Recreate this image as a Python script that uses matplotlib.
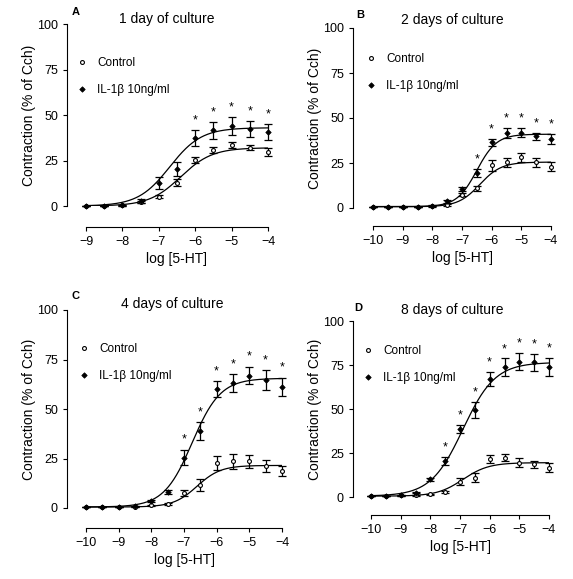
import matplotlib
matplotlib.use("Agg")
import matplotlib.pyplot as plt
import numpy as np

plt.rcParams['font.family'] = ['Liberation Sans', 'DejaVu Sans']

W, H = 573, 579

# dosis (log [5-HT])
x_a = [-9, -8.5, -8, -7.5, -7, -6.5, -6, -5.5, -5, -4.5, -4]
x_bcd = [-10, -9.5, -9, -8.5, -8, -7.5, -7, -6.5, -6, -5.5, -5, -4.5, -4]

# Panel A - 1 dia
ctrl_a = [0, 0, 0.5, 2, 5, 12.8, 25.3, 30.8, 33.6, 32, 29.6]
ctrl_a_err = [0, 0, 0.3, 0.5, 0.8, 2, 1.5, 1.5, 1.5, 1.5, 2]
il_a = [0, 0, 0.5, 2.7, 12.8, 20.4, 37.2, 41.5, 44, 42.2, 40.5]
il_a_err = [0, 0, 0.3, 1, 3.3, 4, 4.5, 4.5, 5, 4.5, 4.5]
sig_a = [-6, -5.5, -5, -4.5, -4]

# Panel B - 2 dias
ctrl_b = [0.5, 0.5, 0.5, 0.7, 1, 1.5, 7.4, 11, 23.7, 25.5, 28.3, 25.5, 23]
ctrl_b_err = [0, 0, 0, 0, 0.3, 0.5, 1, 1.5, 3, 2.5, 2.5, 2.5, 2.5]
il_b = [0.5, 0.5, 0.5, 0.7, 1.2, 3.7, 10.7, 19.4, 36.5, 41.7, 41.7, 39.8, 38.3]
il_b_err = [0, 0, 0, 0, 0.3, 0.7, 1, 2, 2, 3, 2.5, 2, 3]
sig_b = [-6.5, -6, -5.5, -5, -4.5, -4]

# Panel C - 4 dias
ctrl_c = [0.5, 0.5, 0.5, 0.7, 1.3, 2.2, 7.6, 11.8, 22.7, 23.5, 23.5, 21, 18.8]
ctrl_c_err = [0, 0, 0, 0, 0.3, 0.5, 1.5, 3, 3.5, 4, 3.5, 3, 2.5]
il_c = [0.5, 0.5, 0.5, 0.8, 3.7, 8, 25.5, 38.7, 60, 63, 66.9, 64.7, 61.3]
il_c_err = [0, 0, 0, 0, 0.5, 1, 4, 4.5, 4, 4.5, 4.5, 5, 4.5]
sig_c = [-7, -6.5, -6, -5.5, -5, -4.5, -4]

# Panel D - 8 dias
ctrl_d = [0.5, 0.5, 1, 1, 1.5, 3, 8.7, 11, 21.6, 22.3, 19.5, 18.6, 16.7]
ctrl_d_err = [0, 0, 0.3, 0.3, 0.4, 0.5, 2, 2.5, 2, 2, 2.5, 2, 2.5]
il_d = [0.5, 0.5, 1, 2.5, 10, 20.5, 38.6, 49.4, 66.9, 73.7, 76.9, 76.5, 73.9]
il_d_err = [0, 0, 0.3, 0.5, 1, 2.5, 2.5, 4.5, 4, 5, 5, 5, 5]
sig_d = [-7.5, -7, -6.5, -6, -5.5, -5, -4.5, -4]

# parametros del ajuste sigmoide (bottom, top, logEC50, hill)
fit_ctrl = {"A": (0, 32, -6.4, 1.0), "B": (0.7, 25.5, -6.4, 1.2),
            "C": (0.5, 21.5, -6.6, 1.2), "D": (0.5, 19.5, -6.9, 1.0)}
fit_il = {"A": (0, 43, -6.7, 1.0), "B": (0.8, 41, -6.5, 1.3),
          "C": (0.5, 65.5, -6.75, 1.0), "D": (0.5, 76.5, -6.9, 0.8)}

titulos = {"A": "1 day of culture", "B": "2 days of culture",
           "C": "4 days of culture", "D": "8 days of culture"}

# cajas de ejes en pixeles (x0, y0, x1, y1) y desplazamiento de los ejes
cajas = {"A": (86, 24, 268, 206, 19, 21), "B": (373, 28, 551, 208, 20, 18),
         "C": (86, 310, 282, 508, 19, 20), "D": (371, 321, 549, 497, 18, 18)}
titulo_pos = {"A": (167, 19), "B": (452, 20), "C": (172, 304), "D": (452, 310)}
letra_pos = {"A": (76, 12), "B": (360, 15), "C": (75, 296), "D": (358, 308)}
leyenda_pos = {"A": (76, 57), "B": (365, 53), "C": (78, 343), "D": (362, 345)}


def sigmoide(x, p):
    b, t, ec, h = p
    return b + (t - b) / (1 + 10 ** ((ec - x) * h))


def dibujar_panel(fig, clave, x, ctrl, ctrl_err, il, il_err, sig):
    x0, y0, x1, y1, off_l, off_b = cajas[clave]
    ax = fig.add_axes([x0 / W, 1 - y1 / H, (x1 - x0) / W, (y1 - y0) / H])
    xs = np.linspace(x[0], x[-1], 300)
    ax.plot(xs, sigmoide(xs, fit_ctrl[clave]), color="black", lw=0.9)
    ax.plot(xs, sigmoide(xs, fit_il[clave]), color="black", lw=0.9)
    ax.errorbar(x, ctrl, yerr=ctrl_err, fmt="none", ecolor="black",
                elinewidth=0.9, capsize=3, capthick=0.9, clip_on=False)
    ax.errorbar(x, il, yerr=il_err, fmt="none", ecolor="black",
                elinewidth=0.9, capsize=3, capthick=0.9, clip_on=False)
    h1, = ax.plot(x, ctrl, "o", ms=2.8, mfc="white", mec="black", mew=0.8,
                  ls="none", label="Control", clip_on=False, zorder=4)
    h2, = ax.plot(x, il, "D", ms=2.8, mfc="black", mec="black", mew=0.5,
                  ls="none", label="IL-1\u03b2 10ng/ml", clip_on=False, zorder=4)
    # asteriscos de significancia
    for xi in sig:
        i = x.index(xi)
        ax.text(xi, il[i] + il_err[i] + 2, "*", ha="center", va="bottom", fontsize=9)

    ax.set_xlim(x[0], x[-1])
    ax.set_ylim(0, 100)
    ax.set_xticks(range(int(x[0]), -3))
    ax.set_yticks([0, 25, 50, 75, 100])
    for s in ["top", "right"]:
        ax.spines[s].set_visible(False)
    ax.spines["left"].set_position(("outward", off_l * 0.72))
    ax.spines["bottom"].set_position(("outward", off_b * 0.72))
    ax.tick_params(direction="out", length=3, width=0.8, labelsize=9)
    ax.set_xlabel("log [5-HT]", fontsize=10, labelpad=3)
    ax.set_ylabel("Contraction (% of Cch)", fontsize=10, labelpad=1)
    ax.patch.set_visible(False)

    lx, ly = leyenda_pos[clave]
    ax.legend(handles=[h1, h2], loc="upper left", bbox_to_anchor=(lx / W, 1 - ly / H),
              bbox_transform=fig.transFigure, frameon=False, fontsize=8.5,
              handlelength=1.0, handletextpad=0.8, labelspacing=1.25,
              borderpad=0, borderaxespad=0)

    tx, ty = titulo_pos[clave]
    fig.text(tx / W, 1 - ty / H, titulos[clave], ha="center", va="center", fontsize=10)
    lx, ly = letra_pos[clave]
    fig.text(lx / W, 1 - ly / H, clave, ha="center", va="center", fontsize=8,
             fontweight="bold")
    return ax


fig = plt.figure(figsize=(W / 100, H / 100), dpi=100)
dibujar_panel(fig, "A", x_a, ctrl_a, ctrl_a_err, il_a, il_a_err, sig_a)
dibujar_panel(fig, "B", x_bcd, ctrl_b, ctrl_b_err, il_b, il_b_err, sig_b)
dibujar_panel(fig, "C", x_bcd, ctrl_c, ctrl_c_err, il_c, il_c_err, sig_c)
dibujar_panel(fig, "D", x_bcd, ctrl_d, ctrl_d_err, il_d, il_d_err, sig_d)
fig.savefig("out.png", dpi=100)
plt.close(fig)
